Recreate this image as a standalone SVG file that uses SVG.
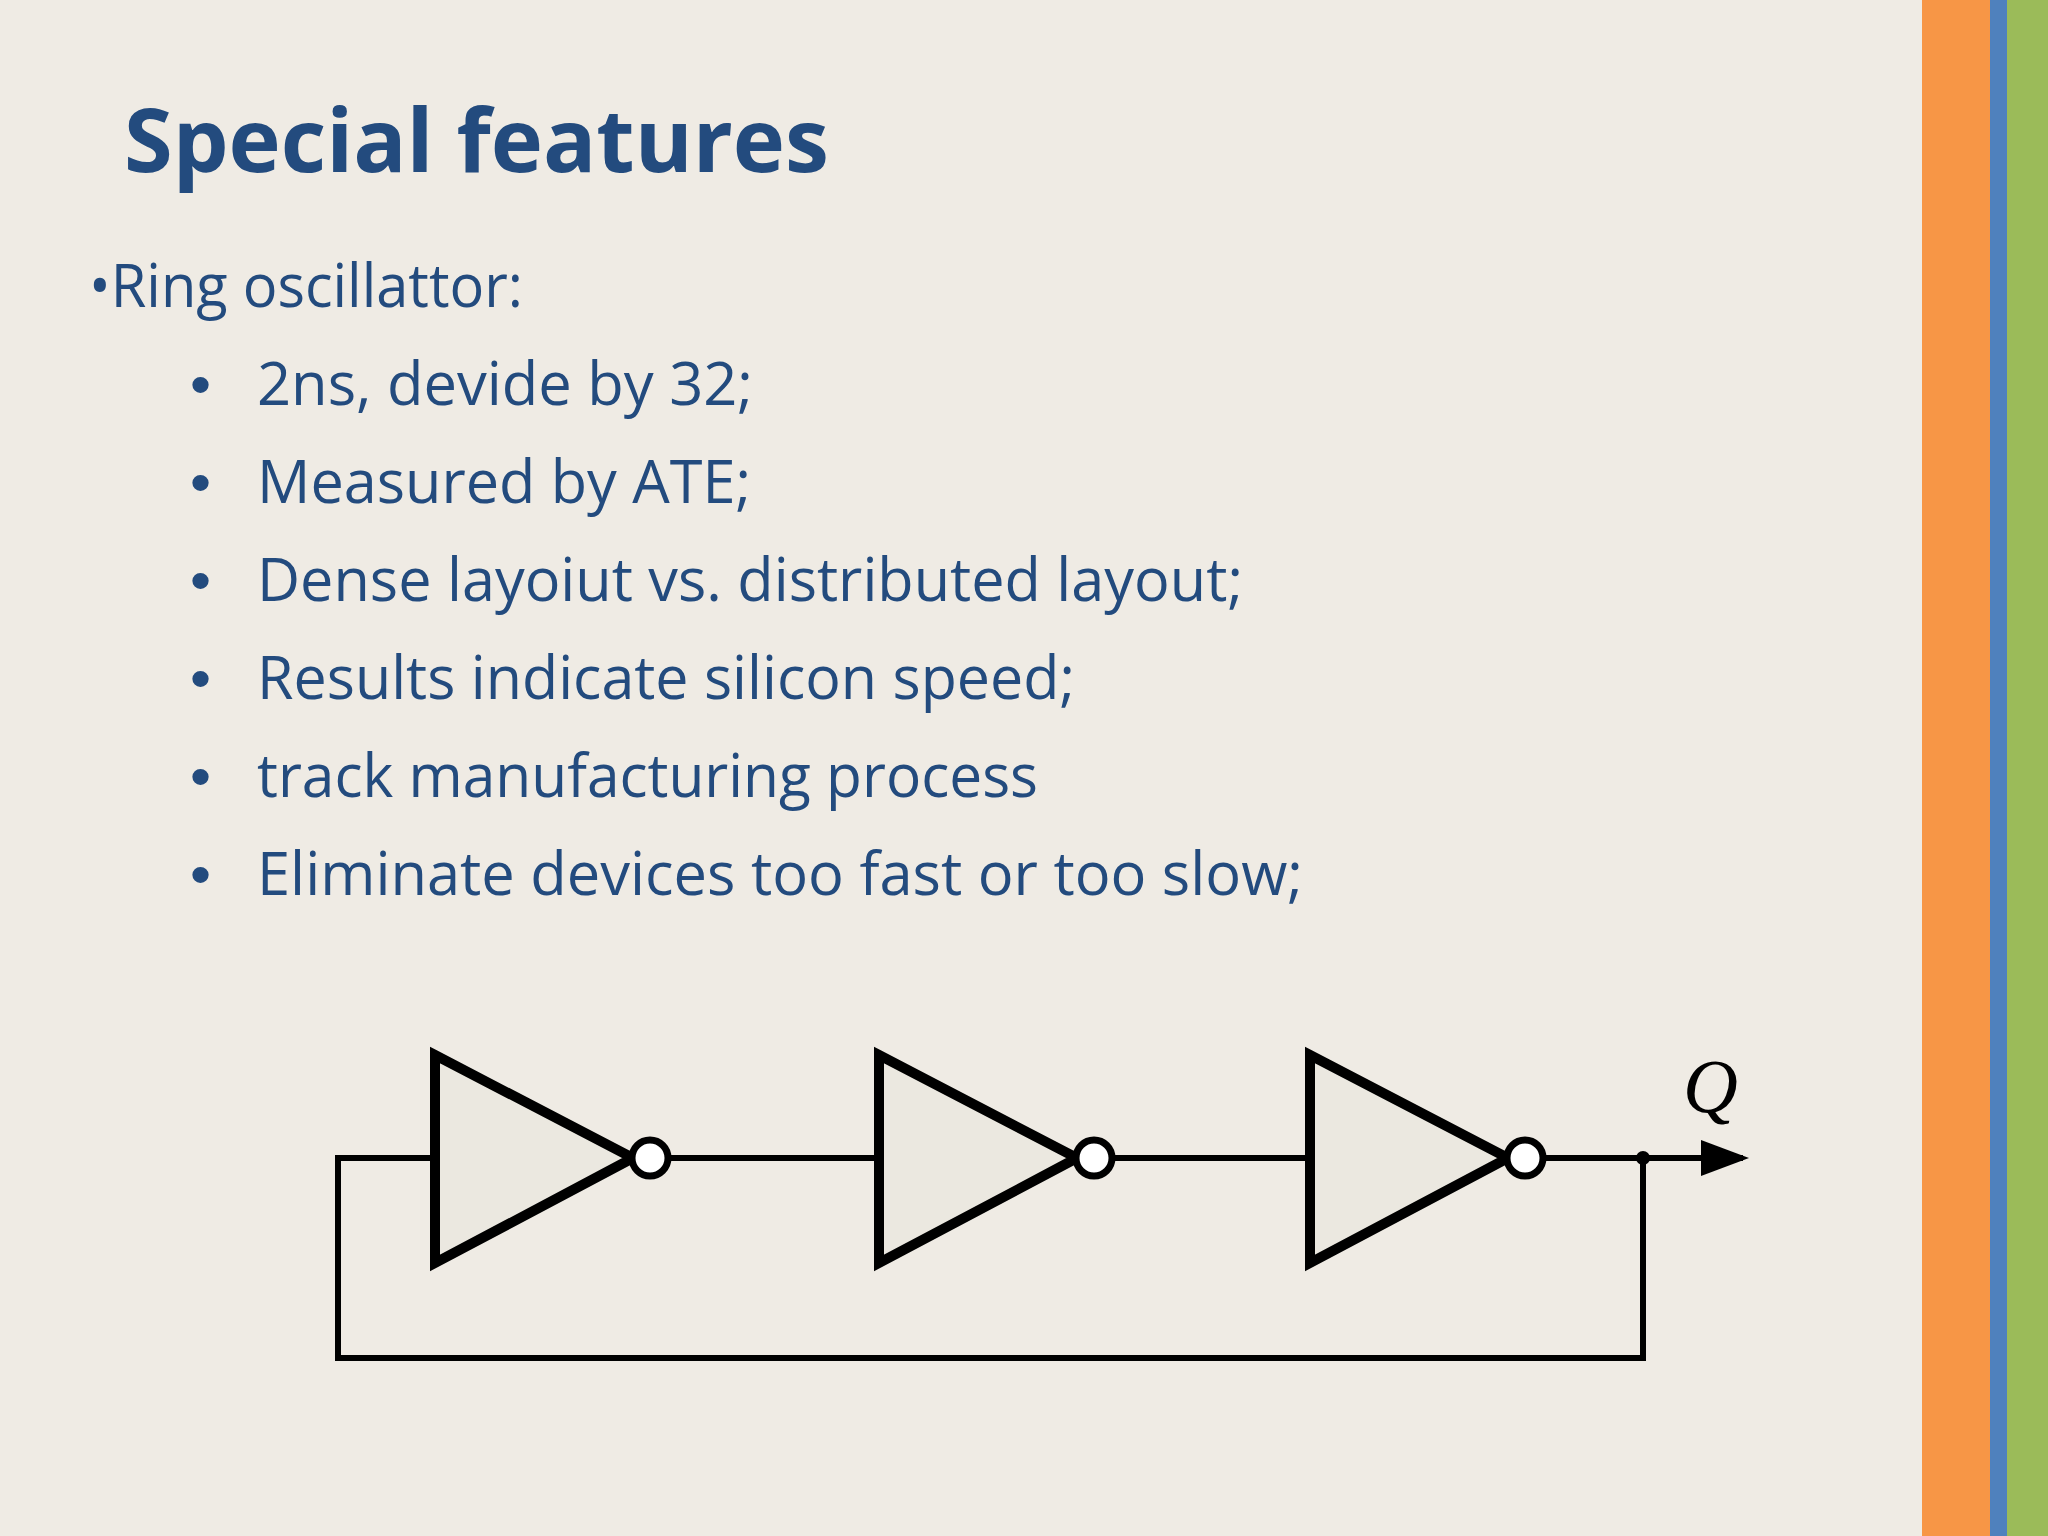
<svg xmlns="http://www.w3.org/2000/svg" width="2048" height="1536" viewBox="0 0 2048 1536">
<style>
.t{font-family:"Open Sans","Liberation Sans",sans-serif;fill:#234b7e}
.b{font-size:60px}
.d{font-size:60px;font-family:"Liberation Sans",sans-serif}
.w{stroke:#000;stroke-width:6;fill:none}
.g{stroke:#000;stroke-width:10;fill:#ebe8e0}
</style>
<defs><marker id="ar" markerWidth="8" markerHeight="6" refX="7" refY="3" orient="auto" markerUnits="strokeWidth"><path d="M0,0 L8,3 L0,6 z" fill="#000"/></marker></defs>
<rect width="2048" height="1536" fill="#efebe4"/>
<rect x="1922" y="0" width="68" height="1536" fill="#f79646"/>
<rect x="1990" y="0" width="17" height="1536" fill="#4f81bd"/>
<rect x="2007" y="0" width="41" height="1536" fill="#9bbb59"/>
<text class="t" x="124" y="172" font-size="88" font-weight="bold" textLength="705" lengthAdjust="spacingAndGlyphs">Special features</text>
<text class="t b" x="89" y="307" textLength="434" lengthAdjust="spacingAndGlyphs">•Ring oscillattor:</text>
<g class="t b">
<text class="d" x="190" y="405">•</text><text x="257" y="405" textLength="496" lengthAdjust="spacingAndGlyphs">2ns, devide by 32;</text>
<text class="d" x="190" y="503">•</text><text x="257" y="503" textLength="494" lengthAdjust="spacingAndGlyphs">Measured by ATE;</text>
<text class="d" x="190" y="601">•</text><text x="257" y="601" textLength="986" lengthAdjust="spacingAndGlyphs">Dense layoiut vs. distributed layout;</text>
<text class="d" x="190" y="699">•</text><text x="257" y="699" textLength="818" lengthAdjust="spacingAndGlyphs">Results indicate silicon speed;</text>
<text class="d" x="190" y="797">•</text><text x="257" y="797" textLength="781" lengthAdjust="spacingAndGlyphs">track manufacturing process</text>
<text class="d" x="190" y="895">•</text><text x="257" y="895" textLength="1046" lengthAdjust="spacingAndGlyphs">Eliminate devices too fast or too slow;</text>
</g>
<g id="connectors">
<path class="w" d="M669,1158 H879 M1113,1158 H1310"/>
<path class="w" d="M1544,1158 H1743" marker-end="url(#ar)"/>
<path class="w" d="M1643,1158 V1358 H338 V1158 H435"/>
<circle cx="1643" cy="1158" r="7" fill="#000"/>
</g>
<g id="inv1"><path class="g" d="M435,1055 L633,1158 L435,1263 Z"/><circle cx="650" cy="1158" r="18" fill="#fff" stroke="#000" stroke-width="7"/></g>
<g id="inv2"><path class="g" d="M879,1055 L1077,1158 L879,1263 Z"/><circle cx="1094" cy="1158" r="18" fill="#fff" stroke="#000" stroke-width="7"/></g>
<g id="inv3"><path class="g" d="M1310,1055 L1508,1158 L1310,1263 Z"/><circle cx="1525" cy="1158" r="18" fill="#fff" stroke="#000" stroke-width="7"/></g>
<text x="1683" y="1112" font-family="Liberation Serif,serif" font-style="italic" font-size="76" fill="#000">Q</text>
</svg>
